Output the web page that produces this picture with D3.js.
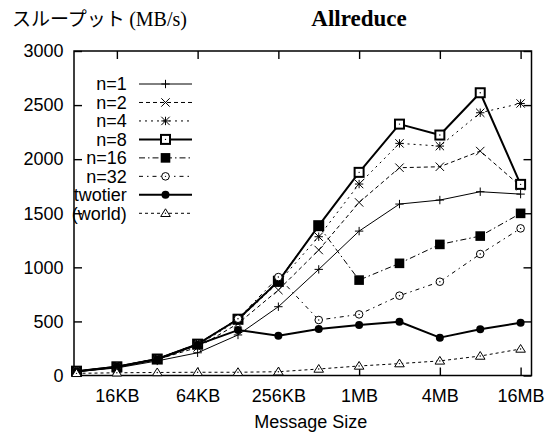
<!DOCTYPE html>
<html>
<head>
<meta charset="utf-8">
<script src="https://cdn.jsdelivr.net/npm/d3@7"></script>
<style>
  body { margin: 0; background: #fff; }
  svg { display: block; }
  text { fill: #000; }
</style>
</head>
<body>
<div id="chart"></div>
<script>
// message sizes in bytes (8KB .. 16MB)
const sizes = [8192, 16384, 32768, 65536, 131072, 262144, 524288, 1048576, 2097152, 4194304, 8388608, 16777216];

const seriesNames = ["n=1", "n=2", "n=4", "n=8", "n=16", "n=32", "twotier", "(world)"];

const n1 = [35, 70, 135, 210, 375, 636, 981, 1335, 1585, 1622, 1699, 1677];
const n2 = [38, 78, 148, 260, 480, 790, 1160, 1600, 1921, 1930, 2075, 1750];
const n4 = [40, 80, 150, 280, 510, 860, 1283, 1770, 2146, 2121, 2429, 2515];
const n8 = [40, 80, 152, 290, 520, 870, 1385, 1878, 2324, 2223, 2614, 1767];
const n16 = [40, 82, 155, 292, 525, 880, 1382, 882, 1037, 1212, 1289, 1499];
const n32 = [40, 82, 155, 292, 525, 910, 513, 565, 738, 867, 1123, 1360];
const twotier = [38, 80, 150, 285, 420, 368, 430, 467, 497, 350, 427, 488];
const world = [20, 25, 28, 30, 30, 35, 60, 88, 110, 135, 180, 245];

const xTicks = [16384, 65536, 262144, 1048576, 4194304, 16777216];
const xTickLabels = ["16KB", "64KB", "256KB", "1MB", "4MB", "16MB"];
const yTicks = [0, 500, 1000, 1500, 2000, 2500, 3000];

const W = 547, H = 435;
const pLeft = 74, pRight = 531.5, pTop = 51, pBottom = 375.5;

const svg = d3.select("#chart").append("svg").attr("width", W).attr("height", H);

const x = d3.scaleLog().base(2).domain([Math.pow(2, 12.938), Math.pow(2, 24.27)]).range([pLeft, pRight]);
const y = d3.scaleLinear().domain([0, 3000]).range([pBottom, pTop]);

const sansFont = "'Liberation Sans', Arial, sans-serif";
const serifFont = "'Liberation Serif', 'Times New Roman', serif";

// axes: gnuplot style, ticks inward and mirrored
const xAxis = svg.append("g").attr("transform", `translate(0,${pBottom})`)
    .call(d3.axisBottom(x).tickValues(xTicks).tickSize(-8).tickFormat((d, i) => xTickLabels[i]));
xAxis.selectAll("text").attr("y", 26).attr("dy", 0)
    .style("font-family", sansFont).style("font-size", "18px");

svg.append("g").attr("transform", `translate(0,${pTop})`)
    .call(d3.axisTop(x).tickValues(xTicks).tickSize(-8).tickFormat(""));

const yAxis = svg.append("g").attr("transform", `translate(${pLeft},0)`)
    .call(d3.axisLeft(y).tickValues(yTicks).tickSize(-8).tickPadding(10.5).tickFormat(d3.format("d")));
yAxis.selectAll("text").style("font-family", sansFont).style("font-size", "18px");

svg.append("g").attr("transform", `translate(${pRight},0)`)
    .call(d3.axisRight(y).tickValues(yTicks).tickSize(-8).tickFormat(""));

svg.selectAll(".domain").remove();
svg.selectAll(".tick line").attr("stroke", "#000").attr("stroke-width", 1.4);

svg.append("rect").attr("x", pLeft).attr("y", pTop)
    .attr("width", pRight - pLeft).attr("height", pBottom - pTop)
    .attr("fill", "none").attr("stroke", "#000").attr("stroke-width", 1.5);

// labels
svg.append("text").attr("x", (pLeft + pRight) / 2 + 8).attr("y", 428)
    .attr("text-anchor", "middle").style("font-family", sansFont).style("font-size", "18px")
    .text("Message Size");

const yl = svg.append("text").attr("x", 12).attr("y", 26);
yl.append("tspan").style("font-family", "'Noto Sans CJK JP', sans-serif").style("font-size", "19px").text("スループット ");
yl.append("tspan").style("font-family", serifFont).style("font-size", "20px").text("(MB/s)");

svg.append("text").attr("x", 359).attr("y", 26).attr("text-anchor", "middle")
    .style("font-family", serifFont).style("font-size", "23px").style("font-weight", "bold")
    .text("Allreduce");

// markers
function marker(g, type, cx, cy) {
    const s = 4.2;
    if (type === "plus" || type === "star") {
        g.append("path").attr("d", `M${cx - s},${cy}H${cx + s}M${cx},${cy - s}V${cy + s}`)
            .attr("stroke", "#000").attr("stroke-width", 1);
    }
    if (type === "cross" || type === "star") {
        g.append("path").attr("d", `M${cx - s},${cy - s}L${cx + s},${cy + s}M${cx - s},${cy + s}L${cx + s},${cy - s}`)
            .attr("stroke", "#000").attr("stroke-width", 1);
    }
    if (type === "box") {
        g.append("rect").attr("x", cx - 4.5).attr("y", cy - 4.5).attr("width", 9).attr("height", 9)
            .attr("fill", "#fff").attr("stroke", "#000").attr("stroke-width", 2);
        g.append("circle").attr("cx", cx).attr("cy", cy).attr("r", 0.7).attr("fill", "#000");
    }
    if (type === "fbox") {
        g.append("rect").attr("x", cx - 4.8).attr("y", cy - 4.8).attr("width", 9.6).attr("height", 9.6)
            .attr("fill", "#000");
    }
    if (type === "circle") {
        g.append("circle").attr("cx", cx).attr("cy", cy).attr("r", 3.8)
            .attr("fill", "#fff").attr("stroke", "#000").attr("stroke-width", 1);
        g.append("circle").attr("cx", cx).attr("cy", cy).attr("r", 0.7).attr("fill", "#000");
    }
    if (type === "fcircle") {
        g.append("circle").attr("cx", cx).attr("cy", cy).attr("r", 4).attr("fill", "#000");
    }
    if (type === "tri") {
        g.append("path").attr("d", `M${cx},${cy - 4.5}L${cx + 4.8},${cy + 3.2}L${cx - 4.8},${cy + 3.2}Z`)
            .attr("fill", "#fff").attr("stroke", "#000").attr("stroke-width", 1);
        g.append("circle").attr("cx", cx).attr("cy", cy).attr("r", 0.7).attr("fill", "#000");
    }
}

const styles = [
    { values: n1, width: 1, dash: null, mark: "plus" },
    { values: n2, width: 1, dash: "4,3", mark: "cross" },
    { values: n4, width: 1, dash: "2,4", mark: "star" },
    { values: n8, width: 2, dash: null, mark: "box" },
    { values: n16, width: 1, dash: "6,3,1.5,3", mark: "fbox" },
    { values: n32, width: 1, dash: "4,4,1.5,4", mark: "circle" },
    { values: twotier, width: 2, dash: null, mark: "fcircle" },
    { values: world, width: 1, dash: "3,3", mark: "tri" }
];

const line = d3.line().x(d => x(d[0])).y(d => y(d[1]));

// legend
const legX = 126.7, legY0 = 84, legStep = 18.47;
styles.forEach((s, i) => {
    const ly = legY0 + i * legStep;
    const g = svg.append("g");
    g.append("text").attr("x", legX).attr("y", ly).attr("dy", "0.35em").attr("text-anchor", "end")
        .style("font-family", sansFont).style("font-size", "18px").text(seriesNames[i]);
    g.append("line").attr("x1", 139).attr("x2", 192).attr("y1", ly).attr("y2", ly)
        .attr("stroke", "#000").attr("stroke-width", s.width).attr("stroke-dasharray", s.dash);
    marker(g, s.mark, 165.5, ly);
});

// series
styles.forEach(s => {
    const g = svg.append("g");
    const pts = sizes.map((v, i) => [v, s.values[i]]);
    g.append("path").datum(pts).attr("d", line)
        .attr("fill", "none").attr("stroke", "#000").attr("stroke-width", s.width)
        .attr("stroke-dasharray", s.dash).attr("stroke-linejoin", "round");
    pts.forEach(p => marker(g, s.mark, x(p[0]), y(p[1])));
});
</script>
</body>
</html>
